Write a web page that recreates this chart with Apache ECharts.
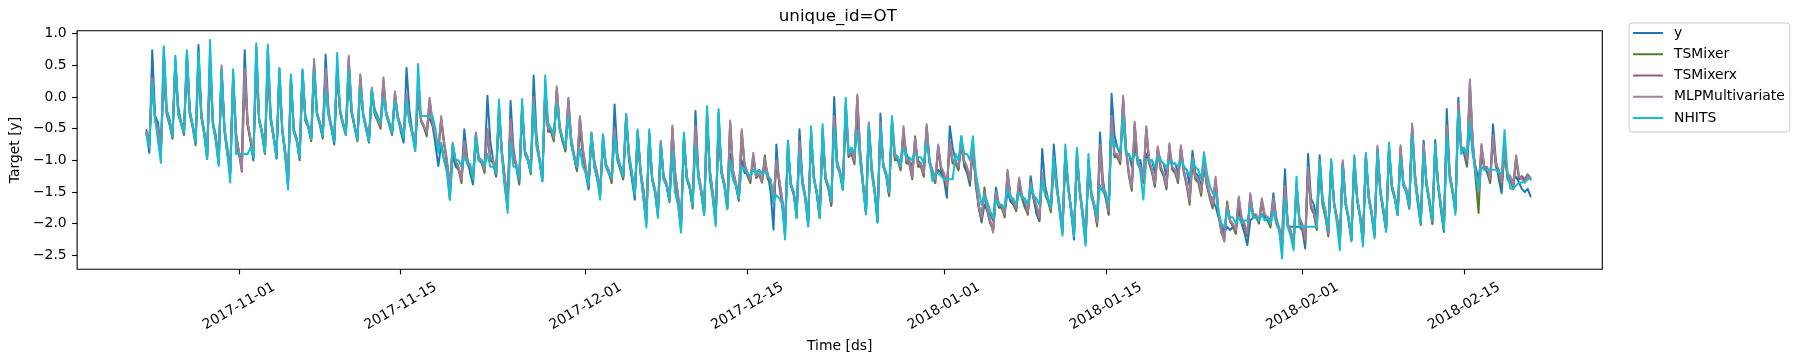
<!DOCTYPE html>
<html><head><meta charset="utf-8">
<script src="https://cdn.jsdelivr.net/npm/echarts@6/dist/echarts.min.js"></script>
<style>html,body{margin:0;padding:0;background:#fff}#c{width:1800px;height:361px}</style>
</head><body><div id="c"></div>
<script>
// ---- data (4 values per day at 00h, 06h, 12h, 18h, starting 2017-10-24) ----
const startDate = '2017-10-24';
const stepHours = 6;
const seriesNames = ['y', 'TSMixer', 'TSMixerx', 'MLPMultivariate', 'NHITS'];
const xTickLabels = ['2017-11-01','2017-11-15','2017-12-01','2017-12-15','2018-01-01','2018-01-15','2018-02-01','2018-02-15'];
const yTickValues = [-2.5, -2.0, -1.5, -1.0, -0.5, 0.0, 0.5, 1.0];

const yValues = [
-0.56,-0.88,0.74,-0.30, -0.40,-0.85,0.78,-0.20, -0.35,-0.62,0.60,-0.15, -0.40,-0.56,0.72,-0.20, -0.45,-0.72,0.82,-0.25,
-0.55,-0.98,0.70,-0.40, -0.60,-1.05,0.35,-0.50, -0.80,-1.20,0.40,-0.55, -0.90,-0.95,0.74,-0.40, -0.70,-1.00,0.80,-0.35,
-0.55,-0.88,0.78,-0.30, -0.60,-0.97,0.45,-0.50, -0.85,-1.40,0.30,-0.55, -0.65,-0.96,0.40,-0.30, -0.45,-0.67,0.35,-0.25,
-0.40,-0.62,0.67,-0.20, -0.50,-0.75,0.40,-0.20, -0.40,-0.59,0.30,-0.25, -0.45,-0.67,0.15,-0.30, -0.50,-0.72,0.10,-0.20,
-0.30,-0.45,0.00,-0.25, -0.40,-0.56,-0.05,-0.30, -0.55,-0.72,0.46,-0.20, -0.55,-0.85,0.00,-0.30, -0.30,-0.30,-0.35,-0.45,
-0.75,-1.09,-0.75,-1.00, -1.10,-1.62,-0.90,-1.10, -1.15,-1.25,-0.51,-0.95, -1.20,-1.38,-0.70,-1.00, -1.00,-1.09,0.02,-0.70,
-1.00,-1.25,-0.20,-0.90, -1.40,-1.75,-0.06,-0.80, -1.10,-1.38,-0.15,-0.90, -1.00,-1.19,0.34,-0.60, -1.00,-1.33,0.10,-0.50,
-0.50,-0.62,0.00,-0.50, -0.70,-0.83,-0.20,-0.75, -0.95,-1.17,-0.50,-0.90, -1.20,-1.46,-0.60,-1.10, -1.30,-1.55,-0.59,-1.10,
-1.20,-1.30,-0.12,-0.90, -1.10,-1.25,-0.35,-1.00, -1.30,-1.62,-0.55,-1.20, -1.60,-2.00,-0.55,-1.30, -1.50,-1.88,-0.80,-1.30,
-1.40,-1.64,-0.90,-1.50, -1.70,-2.10,-0.60,-1.30, -1.40,-1.72,-0.22,-1.20, -1.50,-1.86,-0.20,-1.30, -1.60,-2.00,-0.25,-1.20,
-1.40,-1.75,-0.90,-1.30, -1.40,-1.64,-1.00,-1.20, -1.20,-1.25,-1.15,-1.20, -1.15,-1.20,-1.10,-1.20, -1.50,-2.09,-0.75,-1.40,
-1.70,-2.20,-0.69,-1.40, -1.50,-1.91,-0.51,-1.30, -1.60,-2.04,-0.55,-1.30, -1.50,-1.91,-0.50,-1.30, -1.40,-1.69,0.00,-1.00,
-1.20,-1.46,-0.10,-0.90, -0.80,-0.95,-0.40,-1.00, -1.40,-1.85,-0.50,-1.20, -1.50,-1.98,-0.26,-1.10, -1.20,-1.56,-0.35,-0.90,
-0.95,-1.09,-0.60,-0.90, -1.00,-1.10,-0.75,-1.00, -1.05,-1.15,-0.60,-1.00, -1.20,-1.25,-1.15,-1.20, -1.30,-1.59,-0.46,-0.80,
-1.00,-1.14,-0.62,-1.10, -1.20,-1.40,-0.70,-1.40, -1.70,-1.98,-1.70,-1.80, -1.85,-1.95,-1.43,-1.70, -1.75,-1.83,-1.50,-1.65,
-1.70,-1.75,-1.41,-1.60, -1.75,-1.83,-1.25,-1.60, -1.85,-1.96,-0.82,-1.40, -1.60,-1.75,-0.75,-1.30, -1.80,-2.15,-0.85,-1.40,
-1.80,-2.25,-0.85,-1.50, -1.90,-2.30,-1.00,-1.50, -1.70,-1.95,-0.56,-1.30, -1.60,-1.85,0.05,-0.60, -0.80,-0.90,-0.35,-0.90,
-0.90,-1.10,-0.80,-1.00, -1.00,-1.30,-0.90,-1.00, -1.00,-1.20,-0.85,-1.00, -1.05,-1.25,-0.95,-1.05, -1.05,-1.20,-0.95,-1.10,
-1.15,-1.40,-0.85,-1.20, -1.25,-1.40,-1.10,-1.40, -1.55,-1.63,-1.73,-1.90, -2.00,-2.15,-2.05,-2.10, -2.05,-2.10,-1.76,-2.00,
-2.15,-2.34,-1.95,-1.90, -1.90,-1.95,-1.85,-1.90, -1.90,-1.95,-1.52,-1.90, -2.10,-2.20,-1.14,-2.05, -2.05,-2.05,-2.05,-2.05,
-2.10,-2.39,-0.90,-1.60, -1.70,-1.90,-0.92,-1.60, -1.80,-2.13,-1.00,-1.70, -1.90,-2.30,-1.04,-1.70, -1.90,-2.25,-1.00,-1.60,
-1.90,-2.30,-0.95,-1.60, -1.85,-2.20,-0.85,-1.50, -1.80,-2.10,-0.80,-1.40, -1.60,-1.86,-0.90,-1.40, -1.50,-1.73,-0.55,-1.30,
-1.70,-2.02,-0.69,-1.40, -1.70,-2.00,-0.68,-1.40, -1.80,-2.13,-0.19,-1.20, -1.50,-1.80,-0.01,-0.80, -0.90,-1.10,-0.40,-0.90,
-1.10,-1.31,-0.90,-1.10, -1.20,-1.35,-0.43,-1.00, -1.30,-1.52,-0.80,-1.30, -1.35,-1.30,-1.26,-1.35, -1.45,-1.50,-1.45,-1.57
];

const tsMixerValues = [
-0.58,-0.75,0.22,-0.38, -0.52,-0.85,0.35,-0.28, -0.44,-0.66,0.48,-0.28, -0.43,-0.60,0.58,-0.28, -0.48,-0.76,0.52,-0.33,
-0.58,-0.96,0.48,-0.44, -0.68,-1.06,0.40,-0.55, -0.90,-1.12,0.25,-0.65, -0.90,-1.10,0.38,-0.45, -0.68,-0.95,0.48,-0.38,
-0.58,-0.90,0.52,-0.38, -0.64,-0.95,0.33,-0.55, -0.90,-1.35,0.25,-0.55, -0.68,-1.00,0.36,-0.38, -0.48,-0.70,0.50,-0.28,
-0.44,-0.66,0.38,-0.28, -0.48,-0.70,0.42,-0.25, -0.44,-0.60,0.55,-0.25, -0.48,-0.70,0.28,-0.28, -0.48,-0.70,0.08,-0.28,
-0.38,-0.50,0.22,-0.28, -0.44,-0.60,0.02,-0.34, -0.48,-0.66,-0.02,-0.38, -0.58,-0.76,0.02,-0.38, -0.48,-0.62,-0.08,-0.44,
-0.64,-0.86,-0.38,-0.75, -1.05,-1.48,-0.78,-1.05, -1.14,-1.36,-0.75,-1.05, -1.14,-1.30,-0.62,-1.00, -1.04,-1.20,-0.56,-1.00,
-1.04,-1.26,-0.26,-0.90, -1.30,-1.68,-0.42,-0.95, -1.10,-1.36,-0.22,-0.90, -1.00,-1.22,-0.06,-0.75, -1.00,-1.30,0.08,-0.55,
-0.55,-0.70,0.10,-0.50, -0.70,-0.86,-0.08,-0.70, -0.95,-1.16,-0.36,-0.85, -1.15,-1.42,-0.62,-1.05, -1.25,-1.52,-0.76,-1.10,
-1.20,-1.36,-0.56,-1.00, -1.15,-1.30,-0.34,-0.95, -1.25,-1.56,-0.60,-1.20, -1.50,-1.92,-0.66,-1.30, -1.50,-1.82,-0.75,-1.30,
-1.40,-1.66,-0.52,-1.25, -1.60,-2.02,-0.70,-1.30, -1.45,-1.76,-0.52,-1.25, -1.50,-1.82,-0.42,-1.20, -1.55,-1.92,-0.46,-1.20,
-1.40,-1.76,-0.44,-1.20, -1.40,-1.62,-0.58,-1.10, -1.25,-1.36,-0.95,-1.28, -1.22,-1.35,-0.92,-1.30, -1.35,-1.68,-1.06,-1.35,
-1.65,-2.06,-0.86,-1.40, -1.55,-1.86,-0.76,-1.35, -1.60,-1.96,-0.66,-1.30, -1.55,-1.90,-0.62,-1.30, -1.45,-1.72,-0.36,-1.10,
-1.20,-1.46,-0.22,-0.95, -0.90,-1.06,-0.04,-0.90, -1.40,-1.82,-0.46,-1.15, -1.50,-1.92,-0.46,-1.10, -1.25,-1.56,-0.46,-1.00,
-1.00,-1.16,-0.54,-1.05, -1.05,-1.30,-0.62,-1.10, -1.10,-1.26,-0.50,-1.05, -1.20,-1.36,-0.82,-1.15, -1.25,-1.46,-0.76,-1.05,
-1.05,-1.16,-0.76,-1.05, -1.15,-1.36,-0.82,-1.35, -1.75,-1.95,-1.43,-1.80, -2.00,-2.10,-1.56,-1.75, -1.75,-1.90,-1.22,-1.60,
-1.70,-1.80,-1.34,-1.60, -1.70,-1.86,-1.42,-1.60, -1.75,-1.96,-1.26,-1.55, -1.65,-1.82,-1.06,-1.45, -1.75,-2.12,-0.96,-1.45,
-1.80,-2.16,-1.02,-1.50, -1.85,-2.26,-1.12,-1.55, -1.75,-2.04,-0.82,-1.45, -1.60,-1.86,-0.36,-0.95, -0.95,-1.06,-0.06,-0.85,
-1.25,-1.48,-0.46,-1.05, -1.15,-1.36,-0.52,-1.05, -1.20,-1.42,-0.84,-1.15, -1.25,-1.46,-0.80,-1.15, -1.20,-1.36,-0.82,-1.20,
-1.40,-1.70,-1.02,-1.30, -1.35,-1.56,-1.06,-1.40, -1.60,-1.76,-1.34,-1.85, -2.15,-2.22,-1.65,-1.95, -2.05,-2.16,-1.64,-1.95,
-2.05,-2.20,-1.58,-1.90, -1.90,-2.00,-1.66,-1.90, -1.95,-2.06,-1.66,-2.00, -2.10,-2.36,-1.46,-2.05, -2.15,-2.36,-1.42,-1.95,
-2.05,-2.30,-1.16,-1.75, -1.85,-2.10,-1.06,-1.70, -1.90,-2.20,-1.12,-1.70, -1.95,-2.30,-1.06,-1.70, -1.95,-2.26,-1.02,-1.65,
-1.90,-2.26,-0.96,-1.60, -1.85,-2.16,-0.84,-1.50, -1.80,-2.10,-0.86,-1.45, -1.60,-1.86,-0.82,-1.40, -1.50,-1.76,-0.48,-1.25,
-1.65,-2.00,-0.82,-1.40, -1.65,-2.00,-0.82,-1.40, -1.75,-2.10,-0.52,-1.25, -1.50,-1.80,-0.16,-0.85, -0.85,-1.06,0.15,-0.75,
-1.30,-1.83,-0.80,-1.15, -1.15,-1.36,-0.66,-1.10, -1.20,-1.40,-0.86,-1.25, -1.30,-1.46,-0.98,-1.30, -1.28,-1.32,-1.26,-1.30
];

const tsMixerxValues = [
-0.52,-0.72,0.28,-0.35, -0.50,-0.82,0.42,-0.25, -0.42,-0.62,0.52,-0.25, -0.40,-0.56,0.62,-0.25, -0.46,-0.72,0.58,-0.30,
-0.56,-0.92,0.52,-0.42, -0.66,-1.02,0.45,-0.52, -0.88,-1.20,0.28,-0.62, -0.88,-1.18,0.42,-0.42, -0.66,-0.92,0.52,-0.36,
-0.56,-0.86,0.58,-0.36, -0.62,-0.92,0.38,-0.52, -0.88,-1.28,0.28,-0.52, -0.66,-0.96,0.42,-0.36, -0.46,-0.66,0.55,-0.26,
-0.42,-0.62,0.42,-0.26, -0.46,-0.66,0.46,-0.22, -0.42,-0.56,0.60,-0.22, -0.46,-0.66,0.33,-0.26, -0.46,-0.66,0.12,-0.26,
-0.36,-0.46,0.27,-0.26, -0.42,-0.56,0.06,-0.32, -0.46,-0.62,0.02,-0.36, -0.56,-0.72,0.06,-0.36, -0.46,-0.58,-0.05,-0.42,
-0.62,-0.82,-0.34,-0.72, -1.02,-1.42,-0.75,-1.02, -1.12,-1.32,-0.72,-1.02, -1.12,-1.27,-0.58,-0.97, -1.02,-1.17,-0.52,-0.97,
-1.02,-1.22,-0.22,-0.87, -1.27,-1.62,-0.38,-0.92, -1.07,-1.32,-0.18,-0.87, -0.97,-1.17,-0.03,-0.72, -0.97,-1.27,0.12,-0.52,
-0.52,-0.67,0.13,-0.47, -0.67,-0.82,-0.04,-0.67, -0.92,-1.12,-0.33,-0.82, -1.12,-1.37,-0.58,-1.02, -1.22,-1.47,-0.72,-1.07,
-1.17,-1.32,-0.52,-0.97, -1.12,-1.27,-0.30,-0.92, -1.22,-1.52,-0.57,-1.17, -1.47,-1.87,-0.62,-1.27, -1.47,-1.77,-0.72,-1.27,
-1.37,-1.62,-0.48,-1.22, -1.57,-1.97,-0.67,-1.27, -1.42,-1.72,-0.48,-1.22, -1.47,-1.77,-0.38,-1.17, -1.52,-1.87,-0.43,-1.17,
-1.37,-1.72,-0.40,-1.17, -1.37,-1.57,-0.54,-1.07, -1.22,-1.32,-0.92,-1.27, -1.22,-1.35,-1.00,-1.27, -1.32,-1.62,-1.03,-1.32,
-1.62,-2.02,-0.83,-1.37, -1.52,-1.82,-0.72,-1.32, -1.57,-1.92,-0.62,-1.27, -1.52,-1.87,-0.58,-1.27, -1.42,-1.67,-0.33,-1.07,
-1.17,-1.42,-0.18,-0.92, -0.87,-1.02,0.00,-0.87, -1.37,-1.77,-0.43,-1.12, -1.47,-1.87,-0.43,-1.07, -1.22,-1.52,-0.43,-0.97,
-0.97,-1.12,-0.50,-1.02, -1.02,-1.27,-0.68,-1.07, -1.07,-1.22,-0.46,-1.02, -1.17,-1.32,-0.78,-1.12, -1.22,-1.42,-0.72,-1.02,
-1.02,-1.12,-0.72,-1.02, -1.12,-1.32,-0.78,-1.32, -1.72,-1.92,-1.52,-1.77, -1.97,-2.12,-1.52,-1.72, -1.72,-1.87,-1.18,-1.57,
-1.67,-1.77,-1.30,-1.57, -1.67,-1.82,-1.38,-1.57, -1.72,-1.92,-1.22,-1.52, -1.62,-1.77,-1.03,-1.42, -1.72,-2.07,-0.93,-1.42,
-1.77,-2.12,-0.98,-1.47, -1.82,-2.22,-1.08,-1.52, -1.72,-2.00,-0.78,-1.42, -1.57,-1.82,-0.33,-0.92, -0.92,-1.02,-0.02,-0.82,
-1.22,-1.44,-0.42,-1.02, -1.12,-1.32,-0.49,-1.02, -1.17,-1.38,-0.80,-1.12, -1.22,-1.42,-0.76,-1.12, -1.17,-1.32,-0.79,-1.17,
-1.37,-1.65,-0.98,-1.27, -1.32,-1.52,-1.03,-1.37, -1.57,-1.72,-1.30,-1.82, -2.12,-2.28,-1.72,-1.97, -2.02,-2.12,-1.60,-1.92,
-2.02,-2.17,-1.55,-1.87, -1.87,-1.97,-1.63,-1.87, -1.92,-2.02,-1.63,-1.97, -2.07,-2.32,-1.43,-2.02, -2.12,-2.32,-1.38,-1.92,
-2.02,-2.27,-1.13,-1.72, -1.82,-2.07,-1.03,-1.67, -1.87,-2.17,-1.08,-1.67, -1.92,-2.27,-1.03,-1.67, -1.92,-2.22,-0.98,-1.62,
-1.87,-2.22,-0.93,-1.57, -1.82,-2.12,-0.80,-1.47, -1.77,-2.07,-0.83,-1.42, -1.57,-1.82,-0.79,-1.37, -1.47,-1.72,-0.45,-1.22,
-1.62,-1.97,-0.78,-1.37, -1.62,-1.97,-0.78,-1.37, -1.72,-2.07,-0.48,-1.22, -1.47,-1.77,-0.13,-0.82, -0.82,-1.02,0.22,-0.72,
-1.22,-1.52,-0.77,-1.12, -1.12,-1.32,-0.63,-1.07, -1.17,-1.37,-0.83,-1.22, -1.27,-1.42,-0.95,-1.27, -1.25,-1.30,-1.22,-1.28
];

const mlpValues = [
-0.55,-0.70,0.30,-0.35, -0.50,-0.80,0.40,-0.25, -0.40,-0.60,0.55,-0.25, -0.40,-0.55,0.65,-0.25, -0.45,-0.70,0.60,-0.30,
-0.55,-0.90,0.55,-0.40, -0.65,-1.00,0.50,-0.50, -0.85,-1.17,0.30,-0.60, -0.85,-1.15,0.45,-0.40, -0.65,-0.90,0.55,-0.35,
-0.55,-0.85,0.60,-0.35, -0.60,-0.90,0.40,-0.50, -0.85,-1.25,0.30,-0.50, -0.65,-0.95,0.40,-0.35, -0.45,-0.65,0.60,-0.25,
-0.40,-0.60,0.45,-0.25, -0.45,-0.65,0.50,-0.20, -0.40,-0.55,0.65,-0.20, -0.45,-0.65,0.36,-0.25, -0.45,-0.65,0.15,-0.25,
-0.35,-0.45,0.31,-0.25, -0.40,-0.55,0.09,-0.30, -0.45,-0.60,0.05,-0.35, -0.55,-0.70,0.10,-0.35, -0.45,-0.56,-0.01,-0.40,
-0.60,-0.80,-0.30,-0.70, -1.00,-1.40,-0.72,-1.00, -1.10,-1.30,-0.70,-1.00, -1.10,-1.25,-0.56,-0.95, -1.00,-1.15,-0.50,-0.95,
-1.00,-1.20,-0.20,-0.85, -1.25,-1.60,-0.35,-0.90, -1.05,-1.30,-0.15,-0.85, -0.95,-1.15,0.00,-0.70, -0.95,-1.25,0.15,-0.50,
-0.50,-0.65,0.17,-0.45, -0.65,-0.80,-0.01,-0.65, -0.90,-1.10,-0.30,-0.80, -1.10,-1.35,-0.56,-1.00, -1.20,-1.45,-0.70,-1.05,
-1.15,-1.30,-0.50,-0.95, -1.10,-1.25,-0.27,-0.90, -1.20,-1.50,-0.55,-1.15, -1.45,-1.85,-0.60,-1.25, -1.45,-1.75,-0.69,-1.25,
-1.35,-1.60,-0.45,-1.20, -1.55,-1.95,-0.65,-1.25, -1.40,-1.70,-0.45,-1.20, -1.45,-1.75,-0.35,-1.15, -1.50,-1.85,-0.40,-1.15,
-1.35,-1.70,-0.37,-1.15, -1.35,-1.55,-0.51,-1.05, -1.20,-1.30,-0.88,-1.25, -1.20,-1.33,-0.97,-1.25, -1.30,-1.60,-1.00,-1.30,
-1.60,-2.00,-0.80,-1.35, -1.50,-1.80,-0.70,-1.30, -1.55,-1.90,-0.60,-1.25, -1.50,-1.85,-0.55,-1.25, -1.40,-1.65,-0.30,-1.05,
-1.15,-1.40,-0.15,-0.90, -0.85,-1.00,0.04,-0.85, -1.35,-1.75,-0.40,-1.10, -1.45,-1.85,-0.40,-1.05, -1.20,-1.50,-0.40,-0.95,
-0.95,-1.10,-0.46,-1.00, -1.00,-1.25,-0.65,-1.05, -1.05,-1.20,-0.43,-1.00, -1.15,-1.30,-0.75,-1.10, -1.20,-1.40,-0.70,-1.00,
-1.00,-1.10,-0.70,-1.00, -1.10,-1.30,-0.75,-1.30, -1.70,-1.90,-1.50,-1.75, -1.95,-2.14,-1.50,-1.70, -1.70,-1.85,-1.15,-1.55,
-1.65,-1.75,-1.27,-1.55, -1.65,-1.80,-1.35,-1.55, -1.70,-1.90,-1.20,-1.50, -1.60,-1.75,-1.00,-1.40, -1.70,-2.05,-0.90,-1.40,
-1.75,-2.10,-0.95,-1.45, -1.80,-2.20,-1.05,-1.50, -1.70,-1.98,-0.75,-1.40, -1.55,-1.80,-0.30,-0.90, -0.90,-1.00,0.02,-0.80,
-1.20,-1.42,-0.39,-1.00, -1.10,-1.30,-0.46,-1.00, -1.15,-1.36,-0.78,-1.10, -1.20,-1.40,-0.73,-1.10, -1.15,-1.30,-0.76,-1.15,
-1.35,-1.63,-0.95,-1.25, -1.30,-1.50,-1.00,-1.35, -1.55,-1.70,-1.26,-1.80, -2.10,-2.26,-1.70,-1.95, -2.00,-2.10,-1.57,-1.90,
-2.00,-2.15,-1.52,-1.85, -1.85,-1.95,-1.60,-1.85, -1.90,-2.00,-1.60,-1.95, -2.05,-2.30,-1.40,-2.00, -2.10,-2.30,-1.35,-1.90,
-2.00,-2.25,-1.10,-1.70, -1.80,-2.05,-1.00,-1.65, -1.85,-2.15,-1.05,-1.65, -1.90,-2.25,-1.00,-1.65, -1.90,-2.20,-0.95,-1.60,
-1.85,-2.20,-0.90,-1.55, -1.80,-2.10,-0.77,-1.45, -1.75,-2.05,-0.80,-1.40, -1.55,-1.80,-0.76,-1.35, -1.45,-1.70,-0.42,-1.20,
-1.60,-1.95,-0.75,-1.35, -1.60,-1.95,-0.75,-1.35, -1.70,-2.05,-0.45,-1.20, -1.45,-1.75,-0.10,-0.80, -0.80,-1.00,0.28,-0.70,
-1.20,-1.50,-0.74,-1.10, -1.10,-1.30,-0.60,-1.05, -1.15,-1.35,-0.80,-1.20, -1.25,-1.40,-0.92,-1.25, -1.30,-1.35,-1.25,-1.30
];

const nhitsValues = [
-0.60,-0.80,0.23,-0.35, -0.70,-1.04,0.80,-0.20, -0.40,-0.62,0.65,-0.25, -0.40,-0.56,0.74,-0.25, -0.45,-0.72,0.70,-0.30,
-0.60,-0.98,0.90,-0.40, -0.70,-1.09,0.43,-0.50, -0.90,-1.35,0.44,-0.90, -0.90,-0.90,-0.90,-0.90, -0.80,-0.95,0.85,-0.35,
-0.60,-0.88,0.83,-0.35, -0.65,-0.97,0.46,-0.50, -0.95,-1.46,0.36,-0.55, -0.70,-0.96,0.44,-0.35, -0.45,-0.67,0.41,-0.25,
-0.40,-0.62,0.10,-0.30, -0.50,-0.70,0.70,-0.20, -0.40,-0.59,0.44,-0.20, -0.45,-0.67,0.15,-0.30, -0.50,-0.70,0.12,-0.25,
-0.30,-0.40,-0.01,-0.30, -0.40,-0.56,-0.06,-0.35, -0.50,-0.65,-0.06,-0.40, -0.60,-0.85,0.52,-0.30, -0.30,-0.30,-0.30,-0.30,
-0.50,-0.88,-0.72,-1.00, -1.20,-1.62,-0.75,-1.00, -1.00,-1.10,-0.95,-1.05, -1.05,-1.30,-0.62,-1.00, -1.00,-1.09,-0.90,-1.10,
-1.10,-1.20,-0.04,-0.90, -1.40,-1.83,-0.72,-1.10, -1.10,-1.30,-0.03,-0.90, -1.00,-1.19,-0.09,-0.80, -1.00,-1.33,0.34,-0.40,
-0.50,-0.60,-0.09,-0.50, -0.65,-0.80,-0.30,-0.75, -0.95,-1.10,-0.82,-1.10, -1.20,-1.40,-0.56,-1.10, -1.30,-1.62,-0.59,-1.10,
-1.20,-1.28,-0.62,-1.00, -1.10,-1.25,-0.27,-0.90, -1.20,-1.55,-0.51,-1.20, -1.60,-2.06,-0.51,-1.30, -1.50,-1.91,-0.74,-1.30,
-1.40,-1.64,-0.85,-1.50, -1.70,-2.14,-0.56,-1.30, -1.40,-1.72,-0.77,-1.30, -1.50,-1.86,-0.14,-1.20, -1.60,-2.04,-0.19,-1.20,
-1.40,-1.77,-1.00,-1.30, -1.40,-1.60,-1.09,-1.15, -1.20,-1.25,-1.15,-1.20, -1.15,-1.22,-1.18,-1.25, -1.30,-1.67,-1.55,-1.60,
-1.70,-2.25,-0.69,-1.40, -1.50,-1.91,-0.88,-1.40, -1.60,-2.04,-0.46,-1.30, -1.50,-1.91,-0.43,-1.30, -1.40,-1.65,-0.48,-1.10,
-1.20,-1.46,-0.01,-0.90, -0.80,-0.88,-0.53,-1.00, -1.40,-1.85,-0.45,-1.20, -1.50,-1.98,-0.46,-1.10, -1.20,-1.50,-0.30,-0.90,
-0.95,-1.09,-0.80,-0.95, -0.95,-1.00,-0.90,-0.95, -0.95,-1.05,-0.72,-1.00, -1.33,-1.20,-1.20,-1.25, -1.30,-1.30,-1.30,-1.30,
-0.90,-1.00,-0.62,-0.90, -0.90,-1.00,-0.62,-1.20, -1.46,-1.70,-1.55,-1.65, -1.80,-1.91,-1.62,-1.70, -1.70,-1.75,-1.45,-1.60,
-1.60,-1.70,-1.50,-1.60, -1.60,-1.70,-1.40,-1.55, -1.60,-1.70,-1.30,-1.55, -1.60,-1.75,-0.93,-1.40, -1.80,-2.19,-0.75,-1.40,
-1.80,-2.20,-0.80,-1.50, -1.90,-2.35,-0.90,-1.60, -1.70,-1.90,-1.40,-1.50, -1.50,-1.70,-0.60,-0.75, -0.80,-0.85,-0.30,-0.90,
-0.90,-1.00,-0.90,-0.95, -1.20,-1.62,-1.00,-1.00, -1.00,-1.10,-0.95,-1.00, -1.05,-1.10,-1.00,-1.05, -1.05,-1.10,-1.00,-1.10,
-1.15,-1.25,-1.00,-1.10, -1.15,-1.30,-0.87,-1.20, -1.40,-1.52,-1.52,-1.80, -2.00,-2.05,-1.80,-1.90, -1.90,-2.00,-1.90,-2.00,
-1.95,-1.95,-1.73,-1.90, -1.90,-1.95,-1.85,-1.95, -1.90,-2.00,-1.80,-2.00, -2.10,-2.55,-1.60,-2.05, -2.20,-2.42,-1.26,-2.05,
-2.05,-2.05,-2.05,-2.05, -2.05,-2.05,-1.00,-1.60, -1.80,-2.10,-0.98,-1.70, -2.00,-2.42,-1.10,-1.70, -1.90,-2.28,-0.92,-1.60,
-1.90,-2.36,-0.88,-1.60, -1.85,-2.23,-0.85,-1.50, -1.75,-2.13,-0.72,-1.40, -1.60,-1.86,-0.95,-1.40, -1.50,-1.73,-0.60,-1.35,
-1.65,-2.00,-0.90,-1.40, -1.65,-1.95,-0.75,-1.40, -1.75,-2.10,-0.60,-1.30, -1.50,-1.86,-0.23,-0.90, -0.80,-0.90,-0.39,-0.90,
-1.20,-1.47,-1.10,-1.15, -1.15,-1.15,-1.15,-1.15, -1.20,-1.20,-0.52,-1.20, -1.45,-1.45,-1.40,-1.35, -1.35,-1.35,-1.30,-1.28
];

const seriesValues = [yValues, tsMixerValues, tsMixerxValues, mlpValues, nhitsValues];
const seriesColors = ['#1f77b4', '#4f7f27', '#8e5a88', '#9e8199', '#17becf'];

// ---- build chart ----
function parseDay(s) { const p = s.split('-').map(Number); return new Date(p[0], p[1] - 1, p[2]).getTime(); }
const t0 = parseDay(startDate);
const stepMs = stepHours * 3600 * 1000;
const spanMs = 119.958 * 86400000;
const xMin = t0 - 0.05 * spanMs;
const xMax = t0 + 1.05 * spanMs;
const xTickValues = xTickLabels.map(parseDay);

function pad(n) { return (n < 10 ? '0' : '') + n; }
function fmtDate(v) { const d = new Date(v); return d.getFullYear() + '-' + pad(d.getMonth() + 1) + '-' + pad(d.getDate()); }
function fmtNum(v) { return (v < 0 ? '\u2212' : '') + Math.abs(v).toFixed(1); }

const FONT = 'DejaVu Sans';
const chart = echarts.init(document.getElementById('c'), null, { renderer: 'canvas' });
chart.setOption({
  animation: false,
  backgroundColor: '#ffffff',
  grid: { left: 73.3, top: 30.7, width: 1529, height: 238.6, show: true, borderColor: '#000', borderWidth: 1.1, backgroundColor: 'transparent' },
  xAxis: {
    type: 'value', min: xMin, max: xMax, scale: true,
    name: 'Time [ds]', nameLocation: 'middle', nameGap: 67,
    nameTextStyle: { fontFamily: FONT, fontSize: 13.9, color: '#000', verticalAlign: 'top' },
    axisLine: { show: false, onZero: false },
    axisTick: { show: true, inside: false, length: 5, lineStyle: { color: '#000', width: 1.1 }, customValues: xTickValues },
    axisLabel: { show: true, rotate: 30, margin: 37, align: 'center', verticalAlign: 'middle', fontFamily: FONT, fontSize: 13.9, color: '#000',
      customValues: xTickValues, formatter: fmtDate, hideOverlap: false },
    splitLine: { show: false }
  },
  yAxis: {
    type: 'value', min: -2.72, max: 1.047, scale: true,
    name: 'Target [y]', nameLocation: 'middle', nameGap: 51, nameRotate: 90,
    nameTextStyle: { fontFamily: FONT, fontSize: 13.9, color: '#000' },
    axisLine: { show: false, onZero: false },
    axisTick: { show: true, inside: false, length: 5, lineStyle: { color: '#000', width: 1.1 }, customValues: yTickValues },
    axisLabel: { show: true, margin: 10.5, fontFamily: FONT, fontSize: 13.9, color: '#000', customValues: yTickValues, formatter: fmtNum },
    splitLine: { show: false }
  },
  legend: {
    orient: 'vertical', left: 1629, top: 23,
    padding: [2, 5, 6, 4], itemGap: 5.25, itemWidth: 30, itemHeight: 2, icon: 'rect',
    backgroundColor: 'rgba(255,255,255,0.8)', borderColor: '#cccccc', borderWidth: 1, borderRadius: 3,
    textStyle: { fontFamily: FONT, fontSize: 13.9, color: '#000', lineHeight: 16, padding: [0, 0, 0, 6] },
    data: seriesNames
  },
  graphic: [{
    type: 'text', x: 837.8, y: 16.7, silent: true,
    style: { text: 'unique_id=OT', fontFamily: FONT, fontSize: 16.7, fill: '#000', align: 'center', verticalAlign: 'middle' }
  }],
  series: seriesNames.map((name, k) => ({
    name: name, type: 'line', showSymbol: false, symbol: 'none',
    color: seriesColors[k], z: 2 + k,
    lineStyle: { width: 2, color: seriesColors[k], join: 'round', cap: 'round' },
    data: seriesValues[k].map((v, i) => [t0 + i * stepMs, v])
  }))
});
</script></body></html>
